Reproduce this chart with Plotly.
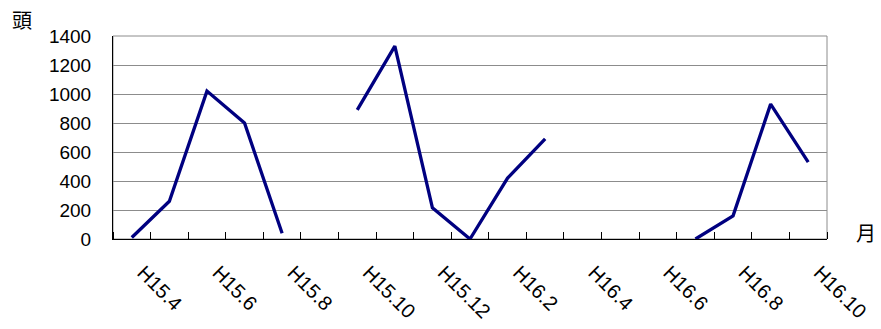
import plotly.graph_objects as go

# Monthly counts (頭) from H15.4 to H16.10; None marks months with no record
months = [
    "H15.4", "H15.5", "H15.6", "H15.7", "H15.8", "H15.9", "H15.10", "H15.11", "H15.12",
    "H16.1", "H16.2", "H16.3", "H16.4", "H16.5", "H16.6", "H16.7", "H16.8", "H16.9", "H16.10",
]
heads = [
    10, 260, 1020, 800, 40, None, 890, 1330, 215,
    0, 420, 690, None, None, None, 0, 160, 930, 530,
]

y_ticks = [0, 200, 400, 600, 800, 1000, 1200, 1400]

x_idx = list(range(len(months)))
# month labels every second month, set slightly right of the month centre
label_pos = [i + 0.3 for i in x_idx[::2]]
label_text = months[::2]

font_main = "Liberation Sans, Arial, sans-serif"
font_cjk = "Noto Sans CJK JP, sans-serif"

fig = go.Figure()
fig.add_trace(go.Scatter(
    x=x_idx,
    y=heads,
    mode="lines",
    connectgaps=False,
    line=dict(color="#000080", width=3.3),
    hoverinfo="skip",
    showlegend=False,
))

fig.update_layout(
    width=881,
    height=329,
    margin=dict(l=113, r=54, t=36, b=90),
    paper_bgcolor="white",
    plot_bgcolor="white",
    font=dict(family=font_main, size=19, color="black"),
    xaxis=dict(
        range=[-0.5, len(months) - 0.5],
        automargin=False,
        tickmode="array",
        tickvals=label_pos,
        ticktext=label_text,
        tickangle=45,
        ticks="",
        showgrid=False,
        zeroline=False,
        showline=True,
        linecolor="black",
        linewidth=1,
        ticklabelstandoff=13,
        tickfont=dict(family=font_main, size=20),
        minor=dict(
            tick0=-0.5,
            dtick=1,
            ticks="inside",
            ticklen=7,
            tickcolor="black",
            tickwidth=1,
            showgrid=False,
        ),
    ),
    yaxis=dict(
        range=[0, 1400],
        automargin=False,
        tickmode="array",
        tickvals=y_ticks,
        ticks="",
        showgrid=True,
        gridcolor="#8c8c8c",
        gridwidth=1,
        zeroline=False,
        showline=True,
        linecolor="black",
        linewidth=1,
        ticklabelstandoff=17,
        tickfont=dict(family=font_main, size=19),
    ),
    shapes=[
        dict(
            type="rect", xref="paper", yref="paper",
            x0=0, x1=1, y0=0, y1=1,
            line=dict(color="#8c8c8c", width=1),
            layer="below",
        )
    ],
    annotations=[
        dict(text="頭", xref="paper", yref="paper", x=-0.1275, y=1.082,
             xanchor="center", yanchor="middle", showarrow=False,
             font=dict(family=font_cjk, size=20, color="black")),
        dict(text="月", xref="paper", yref="paper", x=1.055, y=0.033,
             xanchor="center", yanchor="middle", showarrow=False,
             font=dict(family=font_cjk, size=20, color="black")),
    ],
)

fig.write_html("out.html")
